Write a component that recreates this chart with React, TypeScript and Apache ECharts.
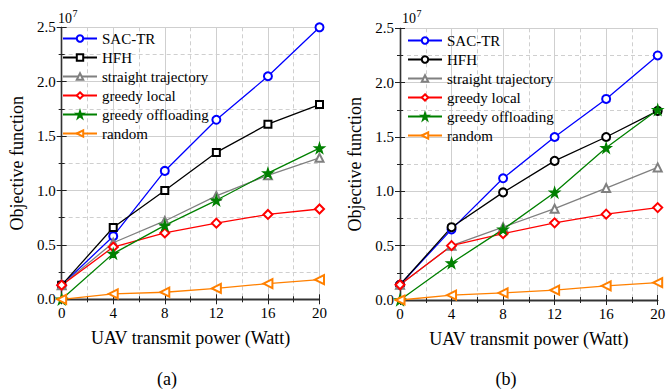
import React, { useEffect, useRef } from "react";
import * as echarts from "echarts";

const powers = [0, 4, 8, 12, 16, 20];
const seriesNames = ["SAC-TR", "HFH", "straight trajectory", "greedy local", "greedy offloading", "random"];

// values in units of 10^7
const sacA = [0.13, 0.58, 1.18, 1.65, 2.05, 2.5];
const hfhA = [0.13, 0.66, 1.0, 1.35, 1.61, 1.79];
const straightA = [0.13, 0.52, 0.72, 0.95, 1.14, 1.3];
const localA = [0.13, 0.48, 0.61, 0.7, 0.78, 0.83];
const offloadA = [0.0, 0.42, 0.68, 0.91, 1.16, 1.39];
const randomA = [0.0, 0.05, 0.065, 0.1, 0.145, 0.18];

const sacB = [0.14, 0.65, 1.12, 1.5, 1.85, 2.25];
const hfhB = [0.14, 0.67, 0.99, 1.28, 1.5, 1.74];
const straightB = [0.14, 0.5, 0.67, 0.84, 1.03, 1.22];
const localB = [0.14, 0.5, 0.61, 0.71, 0.79, 0.85];
const offloadB = [0.0, 0.34, 0.65, 0.99, 1.4, 1.75];
const randomB = [0.0, 0.045, 0.065, 0.09, 0.13, 0.16];

const FONT = "Liberation Serif";
const STAR =
  "path://M50,0L61.2,34.5L97.6,34.5L68.2,55.9L79.4,90.5L50,69.1L20.6,90.5L31.8,55.9L2.4,34.5L38.8,34.5Z";

type Style = { color: string; symbol: string; size: number; rotate?: number };

function buildOption(
  values: number[][],
  styles: Style[],
  grid: { left: number; top: number; width: number; height: number },
  legendPos: { left: number; top: number },
  panel: string,
  panelX: number,
  expX: number
) {
  const series = values.map((vals, i) => ({
    type: "line",
    name: seriesNames[i],
    data: powers.map((p, j) => [p, vals[j]]),
    symbol: styles[i].symbol,
    symbolSize: styles[i].size,
    symbolRotate: styles[i].rotate ?? 0,
    showAllSymbol: true,
    lineStyle: { color: styles[i].color, width: 1.3 },
    itemStyle: { color: styles[i].color, borderColor: styles[i].color, borderWidth: 1.3 },
    emphasis: { disabled: true },
    xAxisIndex: 0,
    yAxisIndex: 0,
  }));
  const gridColor = "#cfcfcf";
  const baseX = {
    type: "value",
    min: 0,
    max: 20,
    interval: 4,
    minorTick: { show: true, splitNumber: 2, length: 3, lineStyle: { color: "#222" } },
    axisTick: { show: true, inside: true, length: 5, lineStyle: { color: "#222" } },
  };
  const baseY = {
    type: "value",
    min: 0,
    max: 2.5,
    interval: 0.5,
    minorTick: { show: true, splitNumber: 2, length: 3, lineStyle: { color: "#222" } },
    axisTick: { show: true, inside: true, length: 5, lineStyle: { color: "#222" } },
  };
  return {
    animation: false,
    backgroundColor: "#ffffff",
    textStyle: { fontFamily: FONT },
    grid: { ...grid, containLabel: false },
    legend: {
      orient: "vertical",
      left: legendPos.left,
      top: legendPos.top,
      padding: 0,
      itemGap: 0,
      itemWidth: 34,
      itemHeight: 8,
      data: seriesNames.map((n) => ({ name: n, textStyle: { fontFamily: FONT, fontSize: 15, color: "#000" } })),
      selectedMode: false,
      textStyle: { fontFamily: FONT, fontSize: 15, color: "#000", lineHeight: 19 },
    },
    xAxis: [
      {
        ...baseX,
        position: "bottom",
        name: "UAV transmit power (Watt)",
        nameLocation: "middle",
        nameGap: 30,
        nameTextStyle: { fontFamily: FONT, fontSize: 18, color: "#000" },
        axisLine: { show: true, lineStyle: { color: "#000", width: 1.3 } },
        axisLabel: { show: true, margin: 6, fontFamily: FONT, fontSize: 15, color: "#000" },
        splitLine: { show: true, lineStyle: { color: gridColor, width: 1 } },
        minorSplitLine: { show: true, lineStyle: { color: gridColor, width: 1, type: [4, 3] } },
      },
      {
        ...baseX,
        position: "top",
        axisLine: { show: true, lineStyle: { color: "#333", width: 1.3 } },
        axisLabel: { show: false },
        splitLine: { show: false },
      },
    ],
    yAxis: [
      {
        ...baseY,
        position: "left",
        name: "Objective function",
        nameLocation: "middle",
        nameRotate: 90,
        nameGap: 34,
        nameTextStyle: { fontFamily: FONT, fontSize: 18, color: "#000" },
        axisLine: { show: true, lineStyle: { color: "#000", width: 1.3 } },
        axisLabel: {
          show: true,
          margin: 6,
          fontFamily: FONT,
          fontSize: 15,
          color: "#000",
          formatter: (v: number) => v.toFixed(1),
        },
        splitLine: { show: true, lineStyle: { color: gridColor, width: 1 } },
        minorSplitLine: { show: true, lineStyle: { color: gridColor, width: 1, type: [4, 3] } },
      },
      {
        ...baseY,
        position: "right",
        axisLine: { show: true, lineStyle: { color: "#333", width: 1.3 } },
        axisLabel: { show: false },
        splitLine: { show: false },
      },
    ],
    graphic: [
      {
        type: "text",
        style: { text: "10", x: expX, y: 18.5, fontFamily: FONT, fontSize: 14, fill: "#000", verticalAlign: "middle", align: "left" },
      },
      {
        type: "text",
        style: { text: "7", x: expX + 14.5, y: 13.5, fontFamily: FONT, fontSize: 10, fill: "#000", verticalAlign: "middle", align: "left" },
      },
      {
        type: "text",
        style: { text: panel, x: panelX, y: 379, fontFamily: FONT, fontSize: 18, fill: "#000", verticalAlign: "middle", align: "center" },
      },
    ],
    series,
  };
}

export default function App() {
  const refA = useRef<HTMLDivElement>(null);
  const refB = useRef<HTMLDivElement>(null);
  useEffect(() => {
    const a = echarts.init(refA.current!, null, { renderer: "svg" });
    const b = echarts.init(refB.current!, null, { renderer: "svg" });
    const stylesA: Style[] = [
      { color: "#0000ff", symbol: "emptyCircle", size: 8 },
      { color: "#000000", symbol: "emptyRect", size: 7 },
      { color: "#808080", symbol: "emptyTriangle", size: 8 },
      { color: "#ff0000", symbol: "emptyDiamond", size: 9 },
      { color: "#008000", symbol: STAR, size: 10 },
      { color: "#ff8000", symbol: "emptyTriangle", size: 9, rotate: 90 },
    ];
    const stylesB: Style[] = stylesA.map((s, i) => (i === 1 ? { ...s, symbol: "emptyCircle", size: 8 } : s));
    a.setOption(
      buildOption(
        [sacA, hfhA, straightA, localA, offloadA, randomA],
        stylesA,
        { left: 60, top: 27.3, width: 259.5, height: 272 },
        { left: 62, top: 29 },
        "(a)",
        167,
        58
      ) as any
    );
    b.setOption(
      buildOption(
        [sacB, hfhB, straightB, localB, offloadB, randomB],
        stylesB,
        { left: 65, top: 28.3, width: 257.7, height: 271.7 },
        { left: 72, top: 31 },
        "(b)",
        171,
        67
      ) as any
    );
    return () => {
      a.dispose();
      b.dispose();
    };
  }, []);
  return (
    <div style={{ position: "absolute", left: 0, top: 0, width: 670, height: 391, background: "#fff" }}>
      <div ref={refA} style={{ position: "absolute", left: 0, top: 0, width: 335, height: 391 }} />
      <div ref={refB} style={{ position: "absolute", left: 335, top: 0, width: 335, height: 391 }} />
    </div>
  );
}
